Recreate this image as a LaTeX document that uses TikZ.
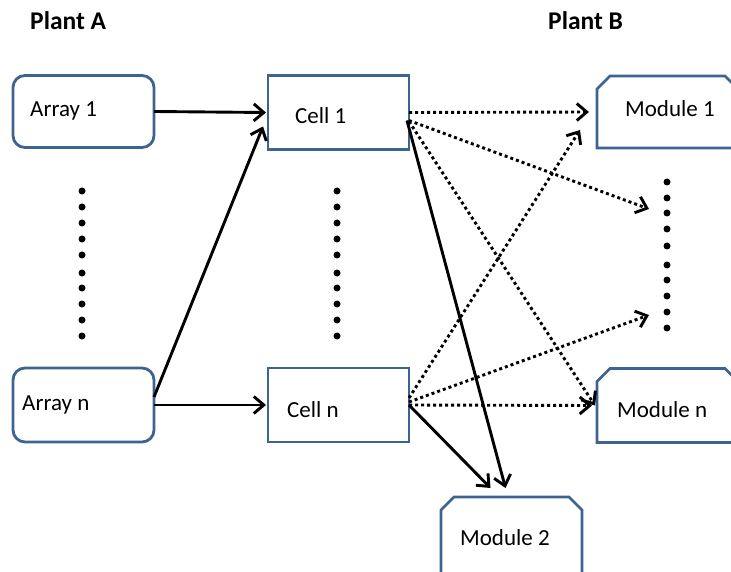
\documentclass[tikz,border=0pt]{standalone}
\usepackage{fontspec}
\setmainfont{Carlito}
\usetikzlibrary{arrows.meta,calc}
\definecolor{boxblue}{RGB}{61,100,145}
\tikzset{
  box/.style={draw=boxblue, line width=2.8pt, minimum width=141pt, minimum height=74pt, inner sep=0pt, outer sep=0pt},
  rbox/.style={box, rounded corners=12pt},
  ghost/.style={minimum width=141pt, minimum height=74pt, inner sep=0pt, outer sep=0pt},
  lbl/.style={anchor=base west, inner sep=0pt, font=\fontsize{23}{27}\selectfont},
  title/.style={anchor=base west, inner sep=0pt, font=\fontsize{25.5}{30}\selectfont\bfseries},
  flow/.style={line width=2.9pt, -{Straight Barb[length=10pt,width=17pt]}},
  maybe/.style={flow, dash pattern=on 3pt off 3pt},
  bigdot/.style={fill=black, circle, inner sep=0pt, minimum size=7pt}
}
\begin{document}
\begin{tikzpicture}[x=1pt,y=-1pt]
\useasboundingbox (0,0) rectangle (731,572);

% headings
\node[title] (pa) at (30,30) {Plant A};
\node[title] (pb) at (548,30) {Plant B};

% plant A: arrays and cells
\node[rbox, minimum height=72pt] (a1) at (83.5,111.5) {};
\node[rbox] (an) at (83.5,405) {};
\node[box] (c1) at (338.5,112.5) {};
\node[box] (cn) at (338.5,405) {};

% plant B: modules (outline drawn below with snipped top corners)
\node[ghost, minimum height=72pt] (m1) at (667.5,112) {};
\node[ghost] (mn) at (667.5,405.5) {};
\node[ghost, minimum height=78pt] (m2) at (511.5,536) {};
\foreach \m in {m1,mn,m2}{
  \draw[draw=boxblue, line width=2.8pt, line join=miter]
    ([yshift=-13pt]\m.north west) -- ([xshift=13pt]\m.north west)
    -- ([xshift=-13pt]\m.north east) -- ([yshift=-13pt]\m.north east)
    -- (\m.south east) -- (\m.south west) -- cycle;
}

% labels
\node[lbl] (ta1) at (30,117) {Array 1};
\node[lbl] (tan) at (22,410) {Array n};
\node[lbl] (tc1) at (295,124) {Cell 1};
\node[lbl] (tcn) at (287,417) {Cell n};
\node[lbl] (tm1) at (625,117) {Module 1};
\node[lbl] (tmn) at (617,417) {Module n};
\node[lbl] (tm2) at (460,545) {Module 2};

% vertical ellipses
\foreach \y [count=\i] in {191,207,223,239,255,273,288,304,320,336}{
  \node[bigdot] (da\i) at (82,\y) {};
  \node[bigdot] (dc\i) at (337,\y) {};
}
\foreach \y [count=\i] in {182,198,213,229,246,265,280,296,312,328}{
  \node[bigdot] (dm\i) at (667,\y) {};
}

% free ends pointing at the module column
\coordinate (mtop) at (649,209);
\coordinate (mbot) at (649,315);

% arrays to cells
\draw[flow] (a1.east) -- ([xshift=-2pt]c1.west);
\draw[flow] (an.east) -- ([xshift=-2pt]cn.west);
\draw[flow] ([yshift=8pt]an.east) -- ([xshift=-5pt,yshift=-14pt]c1.west);

% cell 1 to modules
\draw[maybe] (c1.east) -- ([xshift=-8pt]m1.west);
\draw[maybe] ([yshift=-8pt]c1.east) -- (mtop);
\draw[maybe] ([yshift=-9pt]c1.east) -- ([xshift=-2pt]mn.west);
\draw[flow] ([xshift=-2pt,yshift=-8pt]c1.east) -- ([xshift=-6pt,yshift=9pt]m2.north);

% cell n to modules
\draw[maybe] ([yshift=7pt]cn.east) -- ([xshift=-17pt,yshift=-18pt]m1.west);
\draw[maybe] ([yshift=3pt]cn.east) -- (mbot);
\draw[maybe] (cn.east) -- ([xshift=-5pt]mn.west);
\draw[flow] (cn.east) -- ([xshift=-21pt,yshift=9pt]m2.north);
\end{tikzpicture}
\end{document}
